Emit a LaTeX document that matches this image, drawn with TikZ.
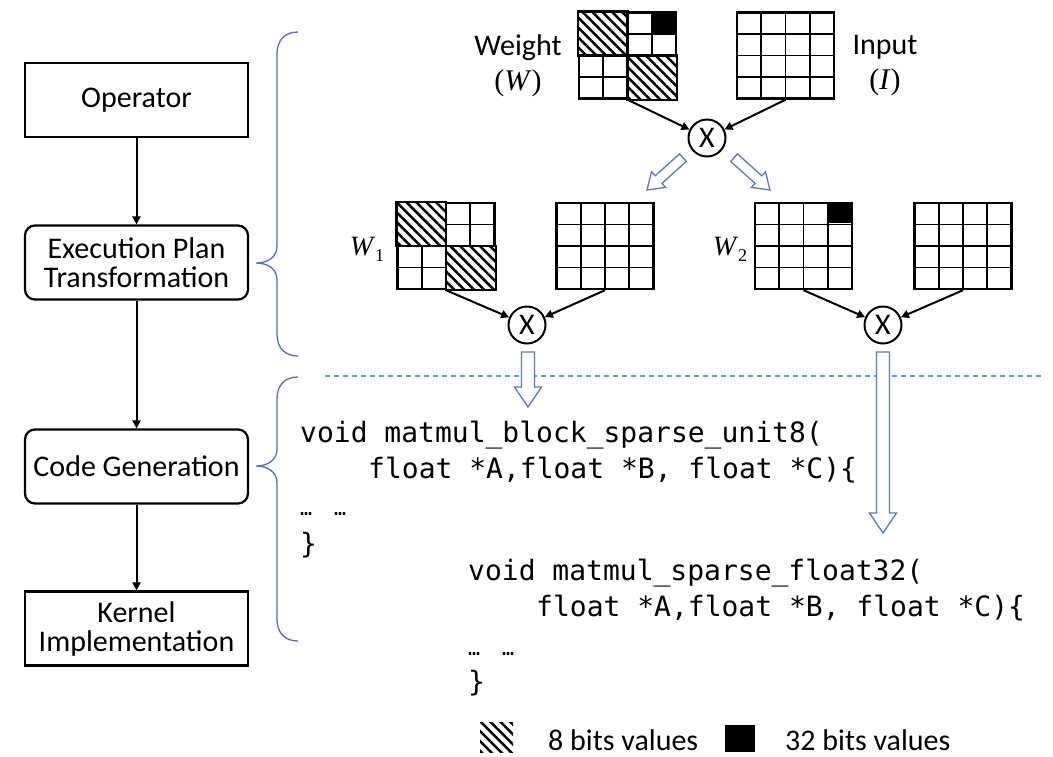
\documentclass[tikz,border=0pt]{standalone}
\usepackage{fontspec}
\setmainfont{Carlito}
\newfontfamily\codefont{DejaVu Sans Mono}
\newfontfamily\serifit{Liberation Serif}
\usetikzlibrary{arrows.meta,calc,patterns.meta}

\definecolor{bracecol}{RGB}{85,110,185}
\definecolor{dashcol}{RGB}{91,155,213}
\definecolor{hollowcol}{RGB}{95,120,175}

\newcommand{\dotsgap}{\makebox[34pt][l]{\fontsize{20}{20}\selectfont …}{\fontsize{20}{20}\selectfont …}}

\tikzset{
	stage/.style={draw, line width=2.2pt, minimum width=223pt, minimum height=74pt, align=center, inner sep=2pt},
	roundstage/.style={stage, rounded corners=10pt},
	flow/.style={line width=2pt, -{Triangle[length=8pt,width=8pt]}},
	mat/.style={draw, line width=2.4pt, minimum width=97pt, minimum height=86pt, inner sep=0pt,
		path picture={
			\foreach \k in {1,2,3} {
				\draw[line width=1.7pt] ($(path picture bounding box.north west)!\k/4!(path picture bounding box.north east)$) -- ($(path picture bounding box.south west)!\k/4!(path picture bounding box.south east)$);
				\draw[line width=1.7pt] ($(path picture bounding box.north west)!\k/4!(path picture bounding box.south west)$) -- ($(path picture bounding box.north east)!\k/4!(path picture bounding box.south east)$);
			}}},
	stripes/.style={pattern={Lines[angle=-45,distance=7pt,line width=2.5pt]}},
	hatch/.style={preaction={fill=white}, stripes, draw, line width=2.4pt},
	mult/.style={circle, draw, line width=2pt, minimum size=37pt, inner sep=0pt},
	hollowline/.style={draw=hollowcol, fill=white, line width=1.3pt, line join=miter},
	pics/hollow/.style={code={\draw[hollowline] (0,0) -- (-20,-13.5) -- (-20,-6.5) -- (-#1,-6.5) -- (-#1,6.5) -- (-20,6.5) -- (-20,13.5) -- cycle;}},
	brace/.style={draw=bracecol, line width=1.3pt},
	code/.style={font=\codefont\fontsize{28}{34}\selectfont, anchor=base west, inner sep=0pt},
	lbl/.style={align=center, inner sep=0pt, font=\fontsize{30}{35}\selectfont},
	sub/.style={inner sep=0pt, font=\serifit\fontsize{28}{30}\selectfont}
}

\begin{document}
\begin{tikzpicture}[x=1pt, y=-1pt, font=\fontsize{30}{29}\selectfont]
	\path[use as bounding box, fill=white] (0,0) rectangle (1053,756);

	\node[stage] (op) at (136.5,100) {Operator};
	\node[roundstage] (ep) at (136.5,262.5) {Execution Plan\\Transformation};
	\node[roundstage] (cg) at (136.5,466.5) {Code Generation};
	\node[stage] (ki) at (136.5,628.5) {Kernel\\Implementation};

	\path[flow] (op) edge (ep) (ep) edge (cg) (cg) edge (ki);

	\draw[brace] (298,32) .. controls (285,32) and (277,40) .. (277,54) -- (277,246) .. controls (277,257) and (268,263) .. (256,263) .. controls (268,263) and (277,269) .. (277,280) -- (277,334) .. controls (277,348) and (285,356) .. (298,356);
	\draw[brace] (298,377) .. controls (285,377) and (277,385) .. (277,399) -- (277,449) .. controls (277,460) and (268,466) .. (256,466) .. controls (268,466) and (277,472) .. (277,483) -- (277,619) .. controls (277,633) and (285,641) .. (298,641);

	\node[mat] (w) at (627.5,55.5) {};
	\node[mat] (inp) at (785.5,55.5) {};
	\path[hatch] (w.north west) rectangle (w.center);
	\path[hatch] (w.center) rectangle (w.south east);
	\fill ($(w.north east)+(-24.25,0)$) rectangle ($(w.north east)+(0,21.5)$);
	\node[lbl] (wlbl) at (518,66) {Weight\\{\serifit(\textit{W})}};
	\node[lbl] (ilbl) at (885,66) {Input\\{\serifit(\textit{I})}};
	\node[mult] (x0) at (707,138) {X};
	\path[flow] (w.south) edge (x0) (inp.south) edge (x0);

	\pic[rotate=-138, scale=0.78] at (647,190) {hollow=62};
	\pic[rotate=-42, scale=0.78] at (770,190) {hollow=62};

	\node[mat] (w1) at (446,246) {};
	\node[mat] (in1) at (605,246) {};
	\path[hatch] (w1.north west) rectangle (w1.center);
	\path[hatch] (w1.center) rectangle (w1.south east);
	\node[sub] (w1lbl) at (367,249) {\textit{W}\raisebox{-6pt}{\fontsize{18}{18}\selectfont 1}};
	\node[mult] (x1) at (527,325) {X};
	\path[flow] (w1.south) edge (x1) (in1.south) edge (x1);

	\node[mat] (w2) at (803.5,246) {};
	\node[mat] (in2) at (963,246) {};
	\fill ($(w2.north east)+(-24.25,0)$) rectangle ($(w2.north east)+(0,21.5)$);
	\node[sub] (w2lbl) at (730,249) {\textit{W}\raisebox{-6pt}{\fontsize{18}{18}\selectfont 2}};
	\node[mult] (x2) at (883,325) {X};
	\path[flow] (w2.south) edge (x2) (in2.south) edge (x2);

	\draw[dashcol, line width=1.3pt, dash pattern=on 5pt off 4pt] (325,376) -- (1045,376);

	\pic[rotate=-90] at (528,407) {hollow=55};
	\pic[rotate=-90] at (883,533) {hollow=181};

	\node[code] (c1a) at (300,442) {void matmul\_block\_sparse\_unit8(};
	\node[code] (c1b) at (368,478) {float *A,float *B, float *C)\{};
	\node[code] (c1c) at (300,515) {\dotsgap};
	\node[code] (c1d) at (300,553) {\}};

	\node[code] (c2a) at (468,580) {void matmul\_sparse\_float32(};
	\node[code] (c2b) at (536,616) {float *A,float *B, float *C)\{};
	\node[code] (c2c) at (468,655) {\dotsgap};
	\node[code] (c2d) at (468,691) {\}};

	\node[stripes, minimum width=33pt, minimum height=30pt, inner sep=0pt] (k8) at (496.5,737) {};
	\node[anchor=base west, inner sep=0pt] (t8) at (548,750) {8 bits values};
	\node[fill=black, minimum width=30pt, minimum height=27pt, inner sep=0pt] (k32) at (740,738.5) {};
	\node[anchor=base west, inner sep=0pt] (t32) at (785,750) {32 bits values};
\end{tikzpicture}
\end{document}
